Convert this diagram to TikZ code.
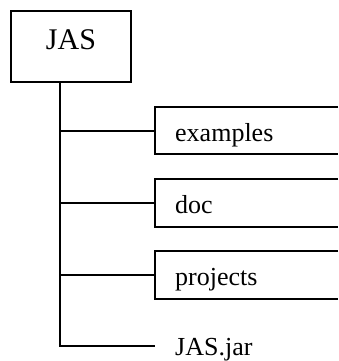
\documentclass[tikz,border=0pt]{standalone}
\usepackage{fontspec}
\setmainfont{Liberation Serif}
\begin{document}
\begin{tikzpicture}[x=1pt,y=-1pt,
  ln/.style={line width=1.3pt},
  lbl/.style={anchor=base west,inner sep=0pt,font=\fontsize{26}{30}\selectfont}]
\useasboundingbox (0,0) rectangle (338,361);
% root box
\draw[ln] (11,11) rectangle (131,82);
\node[anchor=base,inner sep=0pt,font=\fontsize{30}{34}\selectfont] (jas) at (71,50) {JAS};
\coordinate (top) at (60,82);
\coordinate (b1) at (60,131);
\coordinate (b2) at (60,203);
\coordinate (b3) at (60,275);
\coordinate (b4) at (60,346);
\coordinate (e1) at (155,131);
\coordinate (e2) at (155,203);
\coordinate (e3) at (155,275);
\coordinate (e4) at (155,346);
\draw[ln] (top) -- (b4) -- (e4);
\draw[ln] (b1) -- (e1);
\draw[ln] (b2) -- (e2);
\draw[ln] (b3) -- (e3);
% open boxes
\draw[ln] (338,107) -- (155,107) -- (155,154) -- (338,154);
\draw[ln] (338,179) -- (155,179) -- (155,227) -- (338,227);
\draw[ln] (338,251) -- (155,251) -- (155,299) -- (338,299);
\node[lbl] (ex) at (175,141) {examples};
\node[lbl] (doc) at (175,213) {doc};
\node[lbl] (pr) at (175,285) {projects};
\node[lbl] (jar) at (175,355) {JAS.jar};
\end{tikzpicture}
\end{document}
